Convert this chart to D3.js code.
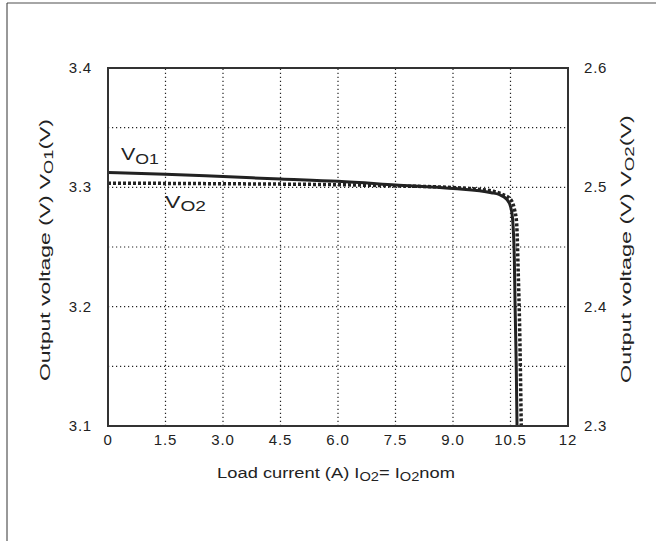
<!DOCTYPE html>
<html>
<head>
<meta charset="utf-8">
<script src="https://cdn.jsdelivr.net/npm/d3@7"></script>
<style>
  body { margin: 0; background: #fff; }
  text { font-family: "Liberation Sans", Arial, sans-serif; fill: #222; }
</style>
</head>
<body>
<script>
// chart size
var width = 656;
var height = 541;

// data
var xTicks = [0, 1.5, 3, 4.5, 6, 7.5, 9, 10.5, 12];
var xTickLabels = ["0", "1.5", "3.0", "4.5", "6.0", "7.5", "9.0", "10.5", "12"];
var yLeftTicks = [3.1, 3.2, 3.3, 3.4];
var yRightTicks = [2.3, 2.4, 2.5, 2.6];
var yGrid = [3.15, 3.2, 3.25, 3.3, 3.35];

// V_O1 (left axis)
var vo1Current = [0, 1.5, 3, 4.5, 6, 7.5, 9, 10, 10.2, 10.4, 10.5, 10.55, 10.58, 10.6, 10.62, 10.65, 10.67];
var vo1Voltage = [3.3125, 3.311, 3.309, 3.307, 3.305, 3.302, 3.299, 3.2955, 3.294, 3.290, 3.284, 3.275, 3.26, 3.24, 3.2, 3.15, 3.1];

// V_O2 (right axis)
var vo2Current = [0, 1.5, 3, 4.5, 6, 7.5, 9, 10, 10.3, 10.5, 10.6, 10.66, 10.7, 10.74, 10.78];
var vo2Voltage = [2.5035, 2.5033, 2.503, 2.5027, 2.5022, 2.5012, 2.4998, 2.497, 2.494, 2.490, 2.482, 2.47, 2.43, 2.38, 2.3];

var margin = {left: 108, right: 88, top: 68, bottom: 115};

var svg = d3.select("body")
            .append("svg")
            .attr("width", width)
            .attr("height", height);

// outer frame (top and left only)
svg.append("line")
   .attr("x1", 7).attr("x2", width).attr("y1", 3).attr("y2", 3)
   .attr("stroke", "#888").attr("stroke-width", 1.5);
svg.append("line")
   .attr("x1", 7).attr("x2", 7).attr("y1", 3).attr("y2", height)
   .attr("stroke", "#333").attr("stroke-width", 1);

var x = d3.scaleLinear().domain([0, 12]).range([margin.left, width - margin.right]);
var yL = d3.scaleLinear().domain([3.1, 3.4]).range([height - margin.bottom, margin.top]);
var yR = d3.scaleLinear().domain([2.3, 2.6]).range([height - margin.bottom, margin.top]);

// grid
var grid = svg.append("g")
              .attr("stroke", "#222")
              .attr("stroke-width", 1.2)
              .attr("stroke-dasharray", "1.2,2.8");
grid.selectAll("line.vx")
    .data(xTicks.slice(1, -1))
    .enter().append("line")
    .attr("x1", function(d) { return x(d); })
    .attr("x2", function(d) { return x(d); })
    .attr("y1", yL(3.1)).attr("y2", yL(3.4));
grid.selectAll("line.hy")
    .data(yGrid)
    .enter().append("line")
    .attr("x1", x(0)).attr("x2", x(12))
    .attr("y1", function(d) { return yL(d); })
    .attr("y2", function(d) { return yL(d); });

// curves
var line1 = d3.line()
              .x(function(d, i) { return x(vo1Current[i]); })
              .y(function(d) { return yL(d); })
              .curve(d3.curveMonotoneX);
var line2 = d3.line()
              .x(function(d, i) { return x(vo2Current[i]); })
              .y(function(d) { return yR(d); })
              .curve(d3.curveMonotoneX);

svg.append("path")
   .attr("d", line2(vo2Voltage))
   .attr("fill", "none")
   .attr("stroke", "#222")
   .attr("stroke-width", 3.5)
   .attr("stroke-dasharray", "3,2");

svg.append("path")
   .attr("d", line1(vo1Voltage))
   .attr("fill", "none")
   .attr("stroke", "#222")
   .attr("stroke-width", 3);

// plot frame
svg.append("rect")
   .attr("x", x(0)).attr("y", yL(3.4))
   .attr("width", x(12) - x(0)).attr("height", yL(3.1) - yL(3.4))
   .attr("fill", "none")
   .attr("stroke", "#333")
   .attr("stroke-width", 2);

// tick labels
svg.selectAll("text.xt")
   .data(xTicks)
   .enter().append("text")
   .attr("x", function(d) { return x(d); })
   .attr("y", yL(3.1) + 19)
   .attr("text-anchor", "middle")
   .style("font-size", "15px")
   .style("letter-spacing", "0.8px")
   .text(function(d, i) { return xTickLabels[i]; });

svg.selectAll("text.yl")
   .data(yLeftTicks)
   .enter().append("text")
   .attr("x", x(0) - 16)
   .attr("y", function(d) { return yL(d) + 5; })
   .attr("text-anchor", "end")
   .style("font-size", "15px")
   .style("letter-spacing", "0.8px")
   .text(function(d) { return d.toFixed(1); });

svg.selectAll("text.yr")
   .data(yRightTicks)
   .enter().append("text")
   .attr("x", x(12) + 16)
   .attr("y", function(d) { return yR(d) + 5; })
   .attr("text-anchor", "start")
   .style("font-size", "15px")
   .style("letter-spacing", "0.8px")
   .text(function(d) { return d.toFixed(1); });

// text with subscripts
function subText(g, parts, subSize) {
  parts.forEach(function(p) {
    g.append("tspan")
     .attr("baseline-shift", p[1] ? "-25%" : null)
     .style("font-size", p[1] ? subSize : null)
     .text(p[0]);
  });
}

// stretch a text (anchored at 0,0) to a given width, then place it
function place(g, targetWidth, tx, ty, rot) {
  var w = g.node().getComputedTextLength();
  g.attr("transform", "translate(" + tx + "," + ty + ")" +
         (rot ? " rotate(" + rot + ")" : "") +
         " scale(" + (targetWidth / w) + ",1)");
}

var xt = svg.append("text")
            .attr("text-anchor", "middle")
            .style("font-size", "15px");
subText(xt, [["Load current (A) I", 0], ["O2", 1], ["= I", 0], ["O2", 1], ["nom", 0]], "12px");
place(xt, 238, 336, 478);

var ylt = svg.append("text")
             .attr("text-anchor", "middle")
             .style("font-size", "15px");
subText(ylt, [["Output voltage (V) V", 0], ["O1", 1], ["(V)", 0]], "12px");
place(ylt, 262, 50, 250, -90);

var yrt = svg.append("text")
             .attr("text-anchor", "middle")
             .style("font-size", "15px");
subText(yrt, [["Output voltage (V) V", 0], ["O2", 1], ["(V)", 0]], "12px");
place(yrt, 268, 631, 249, -90);

// curve labels
var l1 = svg.append("text").style("font-size", "17px");
subText(l1, [["V", 0], ["O1", 1]], "14px");
place(l1, 38, 121, 160);
var l2 = svg.append("text").style("font-size", "17px");
subText(l2, [["V", 0], ["O2", 1]], "14px");
place(l2, 41, 165, 208);
</script>
</body>
</html>
